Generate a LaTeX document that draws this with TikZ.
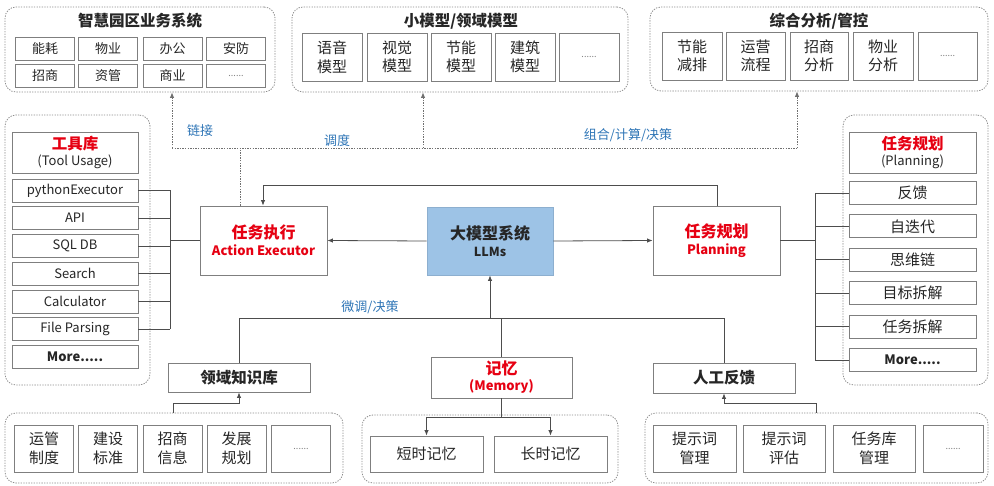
\documentclass[tikz,border=0pt]{standalone}
\usepackage{fontspec}
\setmainfont{Noto Sans CJK SC}
\usetikzlibrary{arrows.meta}
\definecolor{bordergray}{HTML}{7F7F7F}
\definecolor{linegray}{HTML}{4D4D4D}
\definecolor{dashgray}{HTML}{8C8C8C}
\definecolor{lblblue}{HTML}{2E75B6}
\definecolor{redtxt}{HTML}{E60012}
\definecolor{llmblue}{HTML}{9DC3E6}
\definecolor{txt}{HTML}{262626}
\begin{document}
\begin{tikzpicture}[x=1pt,y=-1pt,
  bx/.style={draw=bordergray, line width=0.9pt, fill=white, inner sep=0pt, align=center, text=txt, font=\fontsize{13}{16}\selectfont},
  bxl/.style={bx, font=\fontsize{15}{18.5}\selectfont},
  bxm/.style={bx, font=\fontsize{15}{18}\selectfont},
  dots/.style={text=gray, font=\fontsize{9}{11}\selectfont},
  cont/.style={draw=dashgray, line width=0.8pt, dash pattern=on 1.3pt off 1.3pt, rounded corners=11pt, inner sep=0pt},
  ttl/.style={font=\bfseries\fontsize{15.5}{18}\selectfont, text=txt, inner sep=0pt},
  lbl/.style={text=lblblue, font=\fontsize{13}{16}\selectfont, inner sep=0pt},
  ln/.style={draw=linegray, line width=0.8pt},
  ar/.style={ln, -{Latex[length=5.5pt,width=4.5pt]}},
  dl/.style={draw=dashgray!80!black, line width=0.8pt, dash pattern=on 1.3pt off 1.3pt},
  dar/.style={dl, -{Latex[length=5.5pt,width=4.5pt]}},
  redb/.style={text=redtxt}
]
\useasboundingbox (0,0) rectangle (994,486);

% ---------- top-left container ----------
\node[cont, minimum width=270pt, minimum height=85pt] (TL) at (140,49.5) {};
\node[ttl] (TLt) at (140,21) {智慧园区业务系统};
\node[bx, minimum width=59pt, minimum height=23pt] (a1) at (45,48.5) {能耗};
\node[bx, minimum width=59pt, minimum height=23pt] (a2) at (108,48.5) {物业};
\node[bx, minimum width=59pt, minimum height=23pt] (a3) at (172.5,48.5) {办公};
\node[bx, minimum width=59pt, minimum height=23pt] (a4) at (236,48.5) {安防};
\node[bx, minimum width=59pt, minimum height=23pt] (a5) at (45,75.5) {招商};
\node[bx, minimum width=59pt, minimum height=23pt] (a6) at (108,75.5) {资管};
\node[bx, minimum width=59pt, minimum height=23pt] (a7) at (172.5,75.5) {商业};
\node[bx, dots, minimum width=59pt, minimum height=23pt] (a8) at (236,75.5) {......};

% ---------- top-middle container ----------
\node[cont, minimum width=336pt, minimum height=85pt] (TM) at (460,49.5) {};
\node[ttl] (TMt) at (461,21) {小模型/领域模型};
\node[bxl, minimum width=60pt, minimum height=48pt] (b1) at (332,57) {语音\\模型};
\node[bxl, minimum width=60pt, minimum height=48pt] (b2) at (397,57) {视觉\\模型};
\node[bxl, minimum width=60pt, minimum height=48pt] (b3) at (461,57) {节能\\模型};
\node[bxl, minimum width=60pt, minimum height=48pt] (b4) at (525,57) {建筑\\模型};
\node[bx, dots, minimum width=60pt, minimum height=48pt] (b5) at (589,57) {......};

% ---------- top-right container ----------
\node[cont, minimum width=338pt, minimum height=84pt] (TR) at (819,49) {};
\node[ttl] (TRt) at (819,21) {综合分析/管控};
\node[bxl, minimum width=60pt, minimum height=48pt] (c1) at (692,56) {节能\\减排};
\node[bxl, minimum width=59pt, minimum height=48pt] (c2) at (755.5,56) {运营\\流程};
\node[bxl, minimum width=58pt, minimum height=48pt] (c3) at (819,56) {招商\\分析};
\node[bxl, minimum width=60pt, minimum height=48pt] (c4) at (883,56) {物业\\分析};
\node[bx, dots, minimum width=59pt, minimum height=48pt] (c5) at (947.5,56) {......};

% ---------- central nodes ----------
\node[bx, minimum width=127pt, minimum height=69pt] (AE) at (263.5,240.5)
  {{\color{redtxt}\bfseries\fontsize{16}{19}\selectfont 任务执行}\\[1pt]{\color{redtxt}\bfseries\fontsize{13}{16}\selectfont Action Executor}};
\node[bx, fill=llmblue, draw=llmblue!90!black, minimum width=126pt, minimum height=68pt] (LLM) at (490,241)
  {{\bfseries\fontsize{16}{19}\selectfont 大模型系统}\\[1pt]{\bfseries\fontsize{12.5}{15}\selectfont LLMs}};
\node[bx, minimum width=127pt, minimum height=69pt] (PL) at (716.5,240.5)
  {{\color{redtxt}\bfseries\fontsize{16}{19}\selectfont 任务规划}\\[1pt]{\color{redtxt}\bfseries\fontsize{13}{16}\selectfont Planning}};

% ---------- tool container ----------
\node[cont, minimum width=145pt, minimum height=270pt] (TC) at (77.5,250) {};
\node[bx, minimum width=126pt, minimum height=41pt] (t0) at (75,152.5)
  {{\color{redtxt}\bfseries\fontsize{15.5}{18}\selectfont 工具库}\\{\fontsize{13}{16}\selectfont (Tool Usage)}};
\node[bx, minimum width=126pt, minimum height=23pt] (t1) at (75,190.5) {pythonExecutor};
\node[bx, minimum width=126pt, minimum height=23pt] (t2) at (75,218.2) {API};
\node[bx, minimum width=126pt, minimum height=23pt] (t3) at (75,246) {SQL DB};
\node[bx, minimum width=126pt, minimum height=23pt] (t4) at (75,273.7) {Search};
\node[bx, minimum width=126pt, minimum height=23pt] (t5) at (75,301.5) {Calculator};
\node[bx, minimum width=126pt, minimum height=23pt] (t6) at (75,329.2) {File Parsing};
\node[bx, minimum width=126pt, minimum height=23pt, font=\bfseries\fontsize{13}{16}\selectfont] (t7) at (75,357) {More.....};

% ---------- planning container ----------
\node[cont, minimum width=145pt, minimum height=270pt] (PC) at (915.5,250) {};
\node[bx, minimum width=127pt, minimum height=41pt] (p0) at (912.5,152.5)
  {{\color{redtxt}\bfseries\fontsize{15.5}{18}\selectfont 任务规划}\\{\fontsize{13}{16}\selectfont (Planning)}};
\node[bxm, minimum width=127pt, minimum height=23pt] (p1) at (912.5,193) {反馈};
\node[bxm, minimum width=127pt, minimum height=23pt] (p2) at (912.5,226.4) {自迭代};
\node[bxm, minimum width=127pt, minimum height=23pt] (p3) at (912.5,259.8) {思维链};
\node[bxm, minimum width=127pt, minimum height=23pt] (p4) at (912.5,293.2) {目标拆解};
\node[bxm, minimum width=127pt, minimum height=23pt] (p5) at (912.5,326.6) {任务拆解};
\node[bx, minimum width=127pt, minimum height=23pt, font=\bfseries\fontsize{13}{16}\selectfont] (p6) at (912.5,360) {More.....};

% ---------- bottom middle nodes ----------
\node[bx, minimum width=142pt, minimum height=29pt, font=\bfseries\fontsize{15.5}{18}\selectfont] (KB) at (239,377.5) {领域知识库};
\node[bx, minimum width=141pt, minimum height=41pt] (MEM) at (501.5,377.5)
  {{\color{redtxt}\bfseries\fontsize{16}{19}\selectfont 记忆}\\{\color{redtxt}\bfseries\fontsize{13}{16}\selectfont (Memory)}};
\node[bx, minimum width=142pt, minimum height=30pt, font=\bfseries\fontsize{15.5}{18}\selectfont] (HF) at (724,378) {人工反馈};

% ---------- bottom-left container ----------
\node[cont, minimum width=338pt, minimum height=70pt] (BL) at (174,448) {};
\node[bxl, minimum width=59pt, minimum height=47pt] (d1) at (44,448.5) {运管\\制度};
\node[bxl, minimum width=59pt, minimum height=47pt] (d2) at (108,448.5) {建设\\标准};
\node[bxl, minimum width=59pt, minimum height=47pt] (d3) at (172.5,448.5) {招商\\信息};
\node[bxl, minimum width=59pt, minimum height=47pt] (d4) at (236.5,448.5) {发展\\规划};
\node[bx, dots, minimum width=59pt, minimum height=47pt] (d5) at (301,448.5) {......};

% ---------- memory container ----------
\node[cont, minimum width=256pt, minimum height=68pt] (MC) at (490,449) {};
\node[bxl, minimum width=113pt, minimum height=36pt] (st) at (426.5,454) {短时记忆};
\node[bxl, minimum width=113pt, minimum height=36pt] (lt) at (550.5,454) {长时记忆};

% ---------- bottom-right container ----------
\node[cont, minimum width=343pt, minimum height=70pt] (BR) at (816.5,448) {};
\node[bxl, minimum width=83pt, minimum height=47pt] (e1) at (694.5,448.5) {提示词\\管理};
\node[bxl, minimum width=82pt, minimum height=47pt] (e2) at (784,448.5) {提示词\\评估};
\node[bxl, minimum width=82pt, minimum height=47pt] (e3) at (874,448.5) {任务库\\管理};
\node[bx, dots, minimum width=60pt, minimum height=47pt] (e4) at (953,448.5) {......};

% ---------- labels ----------
\node[lbl] (l1) at (200,131) {链接};
\node[lbl] (l2) at (337,141) {调度};
\node[lbl] (l3) at (628,135) {组合/计算/决策};
\node[lbl] (l4) at (370,307) {微调/决策};

% ---------- upper dashed connectors ----------
\coordinate (dA) at (240,148);
\coordinate (dL) at (172,148);
\coordinate (dM) at (423,148);
\coordinate (dR) at (797,148);
\draw[dl] (AE.north -| dA) -- (dA);
\draw[dl] (dL) -- (dR);
\draw[dar] (dL) -- (dL |- TL.south);
\draw[dar] (dM) -- (dM |- TM.south);
\draw[dar] (dR) -- (dR |- TR.south);

% ---------- planning -> executor ----------
\coordinate (sL) at (263,185);
\coordinate (sR) at (717,185);
\draw[ar] (PL.north -| sR) -- (sR) -- (sL) -- (sL |- AE.north);

% ---------- LLM arrows ----------
\draw[ar] (LLM.west) -- (AE.east);
\draw[ar] (LLM.east) -- (PL.west);

% ---------- tool bus ----------
\coordinate (busT) at (170,190.5);
\coordinate (busB) at (170,329.2);
\draw[ln] (busT) -- (busB);
\foreach \i in {1,...,6} \draw[ln] (t\i.east) -- (t\i.east -| busT);
\draw[ln] (AE.west -| busT) -- (AE.west);

% ---------- planning bus ----------
\coordinate (pbT) at (815,193);
\coordinate (pbB) at (815,360);
\draw[ln] (PL.east) -- (PL.east -| pbT);
\draw[ln] (pbT) -- (pbB);
\foreach \i in {1,...,6} \draw[ln] (p\i.west -| pbT) -- (p\i.west);

% ---------- bottom bus ----------
\coordinate (bL) at (239,318);
\coordinate (bR) at (724,318);
\coordinate (bC) at (490,318);
\coordinate (bM) at (501.5,318);
\draw[ln] (KB.north) -- (bL) -- (bR) -- (HF.north);
\draw[ar] (bC) -- (LLM.south);
\draw[ln] (MEM.north) -- (bM);

% ---------- memory split ----------
\coordinate (mJ) at (501.5,417);
\coordinate (mL) at (426.5,417);
\coordinate (mR) at (550.5,417);
\draw[ln] (MEM.south) -- (mJ);
\draw[ln] (mL) -- (mR);
\draw[ar] (mL) -- (st.north);
\draw[ar] (mR) -- (lt.north);

% ---------- bottom containers to nodes ----------
\coordinate (k1) at (173,403);
\draw[ar] (k1 |- BL.north) -- (k1) -- (k1 -| KB.south) -- (KB.south);
\coordinate (h1) at (816,403);
\draw[ar] (h1 |- BR.north) -- (h1) -- (h1 -| HF.south) -- (HF.south);
\end{tikzpicture}
\end{document}
